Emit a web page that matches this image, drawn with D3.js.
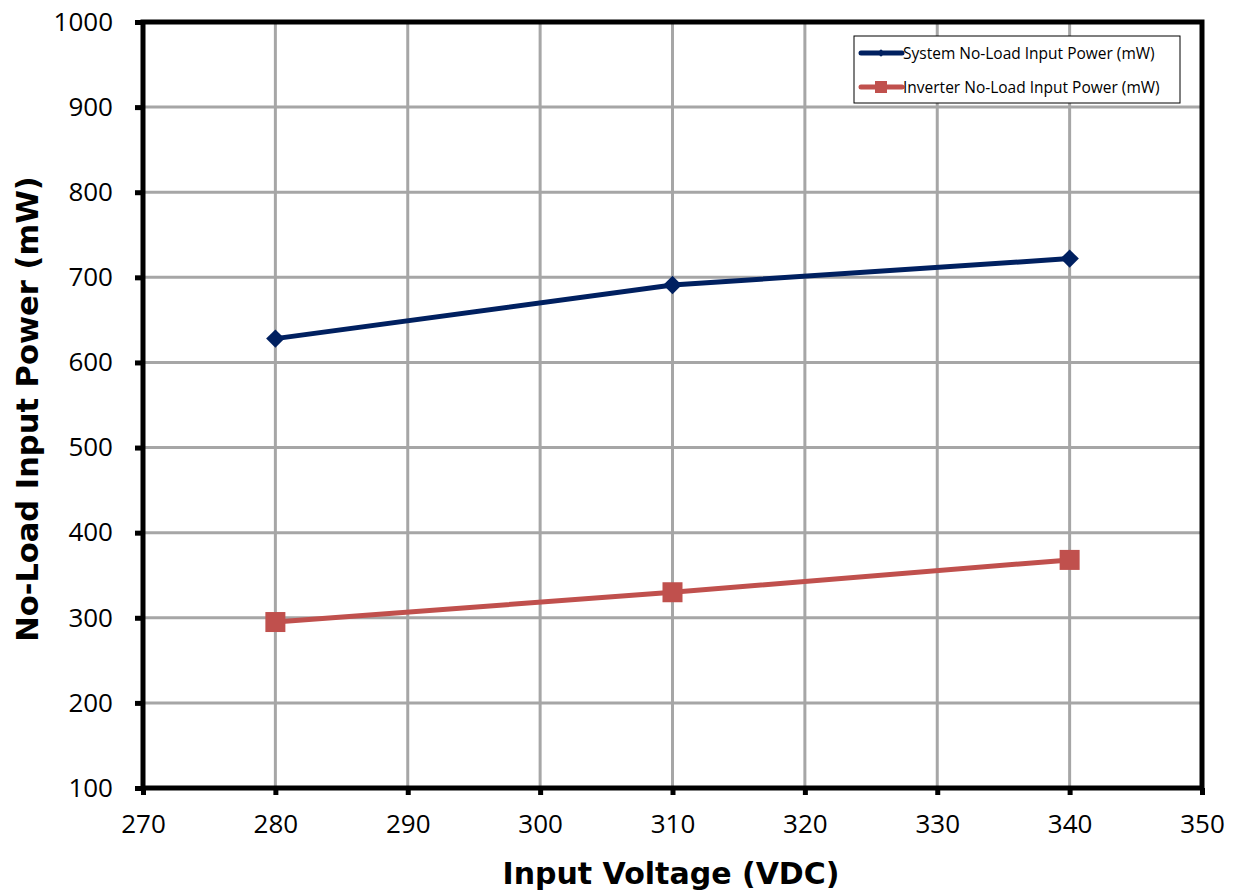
<!DOCTYPE html>
<html>
<head>
<meta charset="utf-8">
<script src="https://cdn.jsdelivr.net/npm/d3@7"></script>
<style>
  body { margin: 0; background: #fff; }
  svg { font-family: "Open Sans", sans-serif; }
</style>
</head>
<body>
<div id="chart"></div>
<script>
const voltages = [280, 310, 340];
const systemPower = [628, 691, 722];
const inverterPower = [295, 330, 368];
const xTicks = [270, 280, 290, 300, 310, 320, 330, 340, 350];
const yTicks = [100, 200, 300, 400, 500, 600, 700, 800, 900, 1000];
const seriesNames = ["System No-Load Input Power (mW)", "Inverter No-Load Input Power (mW)"];

const width = 1233, height = 893;
const margin = { left: 143, right: 31, top: 22, bottom: 105 };

const svg = d3.select("#chart").append("svg")
  .attr("width", width)
  .attr("height", height);

const x = d3.scaleLinear().domain([270, 350]).range([margin.left, width - margin.right]);
const y = d3.scaleLinear().domain([100, 1000]).range([height - margin.bottom, margin.top]);

// grid
svg.append("g").selectAll("line.v")
  .data(xTicks.slice(1, -1))
  .enter().append("line")
  .attr("x1", d => x(d)).attr("x2", d => x(d))
  .attr("y1", y(100)).attr("y2", y(1000))
  .attr("stroke", "#a6a6a6").attr("stroke-width", 3);

svg.append("g").selectAll("line.h")
  .data(yTicks.slice(1, -1))
  .enter().append("line")
  .attr("x1", x(270)).attr("x2", x(350))
  .attr("y1", d => y(d)).attr("y2", d => y(d))
  .attr("stroke", "#a6a6a6").attr("stroke-width", 3);

// frame
svg.append("rect")
  .attr("x", x(270)).attr("y", y(1000))
  .attr("width", x(350) - x(270)).attr("height", y(100) - y(1000))
  .attr("fill", "none").attr("stroke", "#000").attr("stroke-width", 5);

// axes
const xAxis = d3.axisBottom(x).tickValues(xTicks).tickFormat(d3.format("d")).tickSize(7).tickPadding(20);
const yAxis = d3.axisLeft(y).tickValues(yTicks).tickFormat(d3.format("d")).tickSize(8).tickPadding(22);

const gx = svg.append("g")
  .attr("transform", `translate(0, ${y(100)})`)
  .call(xAxis);
const gy = svg.append("g")
  .attr("transform", `translate(${x(270)}, 0)`)
  .call(yAxis);

[gx, gy].forEach(g => {
  g.select(".domain").remove();
  g.selectAll(".tick line").attr("stroke", "#000").attr("stroke-width", 5);
  g.selectAll(".tick text")
    .attr("fill", "#000")
    .style("font-size", "26px")
    .style("font-family", "'Open Sans', sans-serif");
});

// axis titles
svg.append("text")
  .attr("x", 671).attr("y", 884)
  .attr("text-anchor", "middle")
  .style("font-family", "'DejaVu Sans', sans-serif")
  .style("font-size", "30px").style("font-weight", "bold")
  .text("Input Voltage (VDC)");

svg.append("text")
  .attr("transform", `translate(38, 409) rotate(-90)`)
  .attr("text-anchor", "middle")
  .style("font-family", "'DejaVu Sans', sans-serif")
  .style("font-size", "30.5px").style("font-weight", "bold")
  .text("No-Load Input Power (mW)");

// lines
const line = d3.line().x(d => x(d[0])).y(d => y(d[1]));
const sysData = voltages.map((v, i) => [v, systemPower[i]]);
const invData = voltages.map((v, i) => [v, inverterPower[i]]);

svg.append("path").datum(sysData)
  .attr("d", line).attr("fill", "none")
  .attr("stroke", "#002060").attr("stroke-width", 5);
svg.append("path").datum(invData)
  .attr("d", line).attr("fill", "none")
  .attr("stroke", "#c0504d").attr("stroke-width", 5);

svg.append("g").selectAll("path")
  .data(sysData).enter().append("path")
  .attr("d", d3.symbol(d3.symbolSquare, 170))
  .attr("transform", d => `translate(${x(d[0])},${y(d[1])}) rotate(45)`)
  .attr("fill", "#002060");

svg.append("g").selectAll("rect")
  .data(invData).enter().append("rect")
  .attr("x", d => x(d[0]) - 10).attr("y", d => y(d[1]) - 10)
  .attr("width", 20).attr("height", 20)
  .attr("fill", "#c0504d");

// legend
const legend = svg.append("g").attr("transform", "translate(854, 36)");
legend.append("rect")
  .attr("width", 326).attr("height", 67)
  .attr("fill", "#fff").attr("stroke", "#000").attr("stroke-width", 1);

const colors = ["#002060", "#c0504d"];
seriesNames.forEach((name, i) => {
  const g = legend.append("g").attr("transform", `translate(0, ${17 + i * 34})`);
  g.append("line").attr("x1", 7).attr("x2", 48).attr("y1", 0).attr("y2", 0)
    .attr("stroke", colors[i]).attr("stroke-width", 5).attr("stroke-linecap", "round");
  if (i === 0) {
    g.append("path").attr("d", d3.symbol(d3.symbolSquare, 30))
      .attr("transform", "translate(27,0) rotate(45)").attr("fill", colors[i]);
  } else {
    g.append("rect").attr("x", 21).attr("y", -6).attr("width", 12).attr("height", 12)
      .attr("fill", colors[i]);
  }
  g.append("text").attr("x", 49).attr("y", 5.5)
    .style("font-size", "15.5px").text(name);
});
</script>
</body>
</html>
